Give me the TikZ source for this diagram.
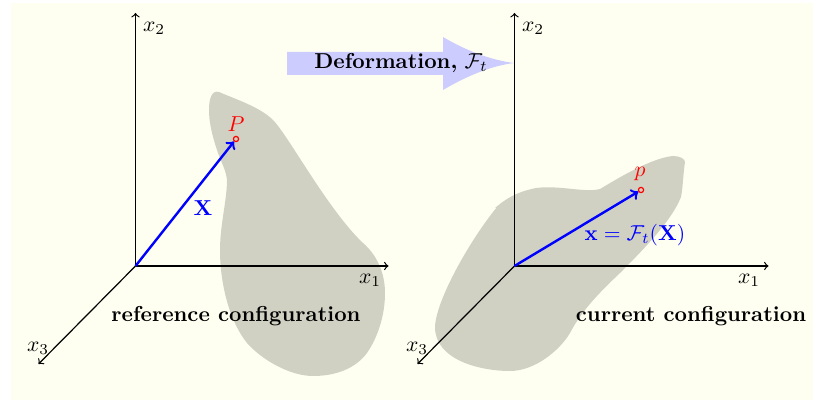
\documentclass[tikz,border=0pt]{standalone}
\usepackage{fix-cm}
\definecolor{paper}{HTML}{FEFFF0}
\definecolor{bodyfill}{HTML}{D0D1C2}
\definecolor{arrowfill}{HTML}{CCCCFF}
\tikzset{
  axis/.style={->, black, line width=0.6pt},
  vec/.style={->, blue, line width=1.2pt},
  pt/.style={draw=red, circle, line width=0.6pt, inner sep=0pt, minimum size=2.6pt},
  every node/.style={font=\fontsize{10.8}{13}\selectfont},
}
\begin{document}
\begin{tikzpicture}[x=0.5pt, y=-0.5pt]
\useasboundingbox (0,0) rectangle (813,400);
\fill[paper] (11,3) rectangle (813,400);
% bodies
\fill[bodyfill] (209,110) .. controls (209,98) and (212,90) .. (219,92) .. controls (235,99) and (260,107) .. (273,120) .. controls (288,135) and (328,210) .. (363,243) .. controls (376,254) and (385,272) .. (385,293) .. controls (385,315) and (378,337) .. (367,353) .. controls (355,369) and (335,376) .. (313,376) .. controls (290,376) and (262,360) .. (247,343) .. controls (230,322) and (220,285) .. (220,250) .. controls (220,225) and (227,200) .. (227,180) .. controls (226,170) and (221,162) .. (217,150) .. controls (212,135) and (209,122) .. (209,110) -- cycle;
\fill[bodyfill] (495,208) .. controls (510,195) and (522,191) .. (536,188) .. controls (560,185) and (585,193) .. (600,189) .. controls (612,182) and (650,158) .. (673,156) .. controls (680,156) and (685,159) .. (685,162) .. controls (683,175) and (683,187) .. (681,197) .. controls (672,220) and (645,248) .. (620,273) .. controls (600,292) and (582,310) .. (570,333) .. controls (560,350) and (535,371) .. (510,371) .. controls (480,371) and (435,360) .. (435,327) .. controls (436,300) and (470,240) .. (497,207) -- cycle;
% deformation arrow
\fill[arrowfill] (287,52) -- (443,52) -- (443,37) .. controls (465,50) and (490,60) .. (514,63) .. controls (490,66) and (465,77) .. (443,90) -- (443,75) -- (287,75) -- cycle;
\node (deform) at (401,63) {\textbf{Deformation,} $\mathcal{F}_t$};
% reference axes
\coordinate (O1) at (135.5,266);
\coordinate (A1) at (388.5,266);
\coordinate (A2) at (135.5,13);
\coordinate (A3) at (38.5,364);
\draw[axis] (O1) -- (A1);
\draw[axis] (O1) -- (A2);
\draw[axis] (O1) -- (A3);
\node (x11) at (370,280) {$x_1$};
\node (x12) at (154,28) {$x_2$};
\node (x13) at (38,348) {$x_3$};
% current axes
\coordinate (O2) at (514.5,266);
\coordinate (B1) at (768.5,266);
\coordinate (B2) at (514.5,13);
\coordinate (B3) at (417.5,364);
\draw[axis] (O2) -- (B1);
\draw[axis] (O2) -- (B2);
\draw[axis] (O2) -- (B3);
\node (x21) at (749,280) {$x_1$};
\node (x22) at (533,28) {$x_2$};
\node (x23) at (417,348) {$x_3$};
% points and vectors
\node[pt] (P) at (236,139) {};
\node[pt] (p) at (641,190) {};
\node[red] (Plabel) at (236,124) {$P$};
\node[red] (plabel) at (640,174) {$p$};
\draw[vec] (O1) -- (P);
\draw[vec] (O2) -- (p);
\node[blue] (Xlabel) at (203,208) {$\mathbf{X}$};
\node[blue] (xlabel) at (635,235) {$\mathbf{x}=\mathcal{F}_t(\mathbf{X})$};
\node (refconf) at (236,316) {\textbf{reference configuration}};
\node (curconf) at (691,316) {\textbf{current configuration}};
\end{tikzpicture}
\end{document}
